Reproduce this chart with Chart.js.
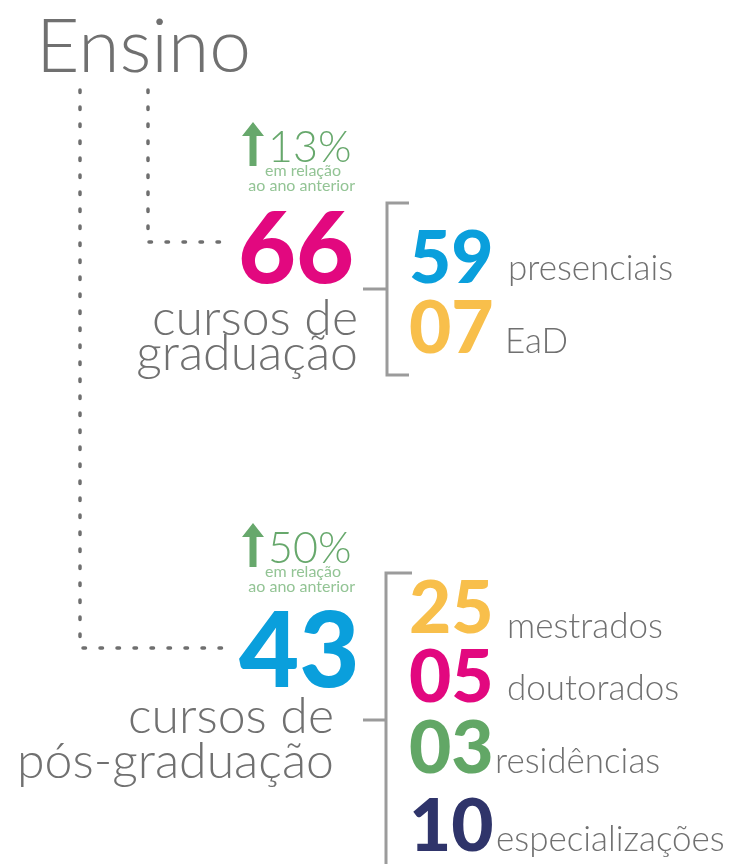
<!DOCTYPE html>
<html>
<head>
<meta charset="utf-8">
<script src="https://cdn.jsdelivr.net/npm/chart.js@4.4.1/dist/chart.umd.min.js"></script>
<style>
    html, body {margin: 0; background: #fff;}
    .ensinoContainer {width: 732px; height: 864px; position: relative;}
</style>
</head>
<body>
<div class="ensinoContainer">
    <canvas id="ensinoChart"></canvas>
</div>
<script>
const title = "Ensino";
const totals = [66, 43];
const totalNames = [["cursos de", "graduação"], ["cursos de", "pós-graduação"]];
const growth = ["13%", "50%"];
const growthNote = ["em relação", "ao ano anterior"];
const gradLabels = ["presenciais", "EaD"];
const gradValues = [59, 7];
const posLabels = ["mestrados", "doutorados", "residências", "especializações"];
const posValues = [25, 5, 3, 10];

const pink = "#e2087f", blue = "#0a9fdc", yellow = "#f8bf4b", green = "#62a766", navy = "#2f346a";
const totalColors = [pink, blue];
const gradColors = [blue, yellow];
const posColors = [yellow, pink, green, navy];
const gray = "#707070";
const lineGray = "#9b9b9b";
const growthGreen = "#67a86c";
const noteGreen = "#93c495";

// layout (pixels in a 732 x 864 box)
const layout = {
    total: [{x: 238, y: 283, size: 100}, {x: 239, y: 687, size: 104}],
    names: [{x: 358, y: [335, 370]}, {x: 334, y: [733, 778]}],
    growth: [{y: 122}, {y: 523}],
    bracket: [{x: 387, top: 203, bottom: 375, mid: 289, end: 409}, {x: 386, top: 573, bottom: 880, mid: 720, end: 412}],
    grad: [{y: 283, lx: 508, ly: 280}, {y: 353, lx: 505, ly: 353}],
    pos: [{y: 633, lx: 507, ly: 638}, {y: 702, lx: 507, ly: 700}, {y: 773, lx: 495, ly: 773}, {y: 851, lx: 496, ly: 851}]
};

const pad = v => String(v).padStart(2, "0");

const infographic = {
    id: "infographic",
    afterDraw(chart) {
        const ctx = chart.ctx;
        const X = v => chart.scales.x.getPixelForValue(v);
        const Y = v => chart.scales.y.getPixelForValue(v);
        ctx.save();
        ctx.textBaseline = "alphabetic";

        // title
        ctx.fillStyle = gray;
        ctx.textAlign = "left";
        ctx.font = "300 75px Lato";
        ctx.fillText(title, X(36), Y(72));

        // dotted connectors
        ctx.strokeStyle = "#6f6f6f";
        ctx.lineWidth = 3.5;
        ctx.lineCap = "round";
        ctx.setLineDash([2.5, 14.5]);
        ctx.beginPath();
        ctx.moveTo(X(80), Y(90));
        ctx.lineTo(X(80), Y(648));
        ctx.lineTo(X(222), Y(648));
        ctx.stroke();
        ctx.beginPath();
        ctx.moveTo(X(148), Y(90));
        ctx.lineTo(X(148), Y(242));
        ctx.lineTo(X(220), Y(242));
        ctx.stroke();
        ctx.setLineDash([]);

        // brackets
        ctx.strokeStyle = lineGray;
        ctx.lineWidth = 3;
        ctx.lineCap = "butt";
        layout.bracket.forEach(b => {
            ctx.beginPath();
            ctx.moveTo(X(b.end), Y(b.top));
            ctx.lineTo(X(b.x), Y(b.top));
            ctx.lineTo(X(b.x), Y(b.bottom));
            ctx.lineTo(X(b.end), Y(b.bottom));
            ctx.moveTo(X(363), Y(b.mid));
            ctx.lineTo(X(b.x), Y(b.mid));
            ctx.stroke();
        });

        // totals with growth badge
        totals.forEach((t, i) => {
            const g = layout.growth[i].y;
            ctx.fillStyle = growthGreen;
            ctx.beginPath();
            ctx.moveTo(X(253), Y(g));
            ctx.lineTo(X(264), Y(g + 14));
            ctx.lineTo(X(256.5), Y(g + 14));
            ctx.lineTo(X(256.5), Y(g + 44));
            ctx.lineTo(X(249.5), Y(g + 44));
            ctx.lineTo(X(249.5), Y(g + 14));
            ctx.lineTo(X(242), Y(g + 14));
            ctx.closePath();
            ctx.fill();
            ctx.font = "300 43px Lato";
            ctx.fillText(growth[i], X(268), Y(g + 40));
            ctx.fillStyle = noteGreen;
            ctx.font = "400 16px Lato";
            ctx.textAlign = "right";
            ctx.fillText(growthNote[0], X(341), Y(g + 54));
            ctx.fillText(growthNote[1], X(355), Y(g + 69));
            ctx.textAlign = "left";

            ctx.fillStyle = totalColors[i];
            ctx.font = "900 " + layout.total[i].size + "px Lato";
            ctx.fillText(String(t), X(layout.total[i].x), Y(layout.total[i].y));

            ctx.fillStyle = gray;
            ctx.textAlign = "right";
            ctx.font = "300 50px Lato";
            totalNames[i].forEach((line, k) => {
                ctx.fillText(line, X(layout.names[i].x), Y(layout.names[i].y[k]));
            });
            ctx.textAlign = "left";
        });

        // breakdowns
        const drawItems = (values, labels, colors, pos) => {
            values.forEach((v, i) => {
                ctx.fillStyle = colors[i];
                ctx.font = "900 73px Lato";
                ctx.fillText(pad(v), X(409), Y(pos[i].y));
                ctx.fillStyle = gray;
                ctx.font = "300 35px Lato";
                ctx.fillText(labels[i], X(pos[i].lx), Y(pos[i].ly));
            });
        };
        drawItems(gradValues, gradLabels, gradColors, layout.grad);
        drawItems(posValues, posLabels, posColors, layout.pos);

        ctx.restore();
    }
};

const chartCanvas = document.getElementById("ensinoChart").getContext("2d");
new Chart(chartCanvas, {
    type: "scatter",
    data: {
        datasets: [{data: [], pointRadius: 0}]
    },
    options: {
        responsive: true,
        maintainAspectRatio: false,
        animation: false,
        layout: {padding: 0},
        scales: {
            x: {type: "linear", min: 0, max: 732, display: false},
            y: {type: "linear", min: 0, max: 864, reverse: true, display: false}
        },
        plugins: {legend: {display: false}, tooltip: {enabled: false}}
    },
    plugins: [infographic]
});
</script>
</body>
</html>
